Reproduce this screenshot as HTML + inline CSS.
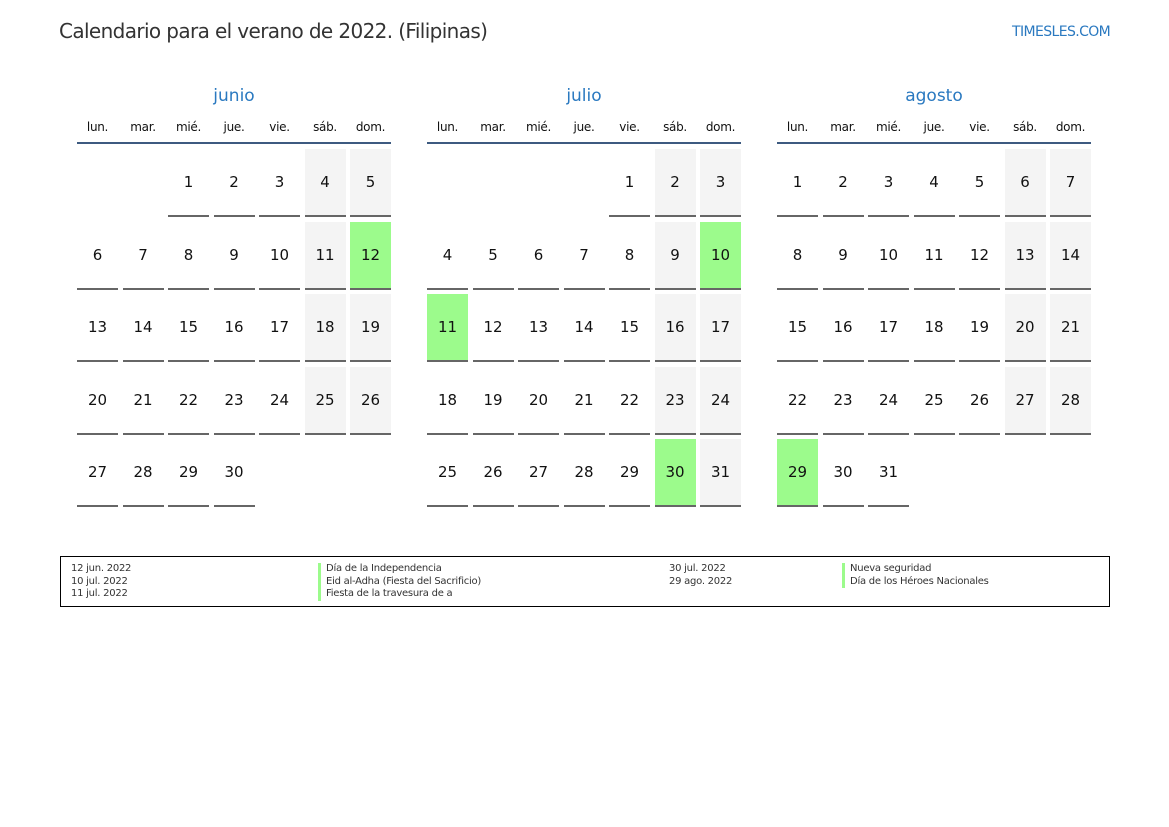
<!DOCTYPE html>
<html><head><meta charset="utf-8"><style>
body{margin:0;width:1169px;height:827px;background:#fff;position:relative;font-family:"DejaVu Sans","Liberation Sans",sans-serif;color:#111;overflow:hidden}
.t{position:absolute;left:59px;top:19px;font-size:20px;color:#333;letter-spacing:-0.62px}
.w{position:absolute;left:1012px;top:24px;font-size:14px;color:#2a79c0;letter-spacing:-0.6px}
.m{position:absolute;top:85px;width:314px}
.mn{text-align:center;font-size:17px;color:#2a79c0;height:24px;line-height:22px}
.dn{display:grid;grid-template-columns:repeat(7,41px);column-gap:4.5px;font-size:12px;text-align:center;height:33px;line-height:37px;border-bottom:2px solid #3d5a80}
.dn span{letter-spacing:-0.3px}
.g{display:grid;grid-template-columns:repeat(7,41px);column-gap:4.5px;grid-auto-rows:68px;row-gap:4.6px;margin-top:5px}
.g div{box-sizing:border-box;text-align:center;line-height:67px;font-size:15px}
.g .d{border-bottom:2px solid #666}
.g .s{background:#f4f4f4}
.g .h{background:#9cfb8c}
.lg{position:absolute;left:60px;top:556px;width:1048px;height:49px;border:1px solid #000;font-size:10px;color:#333;letter-spacing:-0.25px}
.lg div{position:absolute;line-height:12.5px}
.bar{border-left:3px solid #9cfb8c;padding-left:5px}
</style></head><body>
<div class="t">Calendario para el verano de 2022. (Filipinas)</div>
<div class="w">TIMESLES.COM</div>

<div class="m" style="left:77px">
<div class="mn">junio</div>
<div class="dn"><span>lun.</span><span>mar.</span><span>mié.</span><span>jue.</span><span>vie.</span><span>sáb.</span><span>dom.</span></div>
<div class="g">
<div></div><div></div><div class="d">1</div><div class="d">2</div><div class="d">3</div><div class="d s">4</div><div class="d s">5</div>
<div class="d">6</div><div class="d">7</div><div class="d">8</div><div class="d">9</div><div class="d">10</div><div class="d s">11</div><div class="d h">12</div>
<div class="d">13</div><div class="d">14</div><div class="d">15</div><div class="d">16</div><div class="d">17</div><div class="d s">18</div><div class="d s">19</div>
<div class="d">20</div><div class="d">21</div><div class="d">22</div><div class="d">23</div><div class="d">24</div><div class="d s">25</div><div class="d s">26</div>
<div class="d">27</div><div class="d">28</div><div class="d">29</div><div class="d">30</div>
</div></div>

<div class="m" style="left:427px">
<div class="mn">julio</div>
<div class="dn"><span>lun.</span><span>mar.</span><span>mié.</span><span>jue.</span><span>vie.</span><span>sáb.</span><span>dom.</span></div>
<div class="g">
<div></div><div></div><div></div><div></div><div class="d">1</div><div class="d s">2</div><div class="d s">3</div>
<div class="d">4</div><div class="d">5</div><div class="d">6</div><div class="d">7</div><div class="d">8</div><div class="d s">9</div><div class="d h">10</div>
<div class="d h">11</div><div class="d">12</div><div class="d">13</div><div class="d">14</div><div class="d">15</div><div class="d s">16</div><div class="d s">17</div>
<div class="d">18</div><div class="d">19</div><div class="d">20</div><div class="d">21</div><div class="d">22</div><div class="d s">23</div><div class="d s">24</div>
<div class="d">25</div><div class="d">26</div><div class="d">27</div><div class="d">28</div><div class="d">29</div><div class="d h">30</div><div class="d s">31</div>
</div></div>

<div class="m" style="left:777px">
<div class="mn">agosto</div>
<div class="dn"><span>lun.</span><span>mar.</span><span>mié.</span><span>jue.</span><span>vie.</span><span>sáb.</span><span>dom.</span></div>
<div class="g">
<div class="d">1</div><div class="d">2</div><div class="d">3</div><div class="d">4</div><div class="d">5</div><div class="d s">6</div><div class="d s">7</div>
<div class="d">8</div><div class="d">9</div><div class="d">10</div><div class="d">11</div><div class="d">12</div><div class="d s">13</div><div class="d s">14</div>
<div class="d">15</div><div class="d">16</div><div class="d">17</div><div class="d">18</div><div class="d">19</div><div class="d s">20</div><div class="d s">21</div>
<div class="d">22</div><div class="d">23</div><div class="d">24</div><div class="d">25</div><div class="d">26</div><div class="d s">27</div><div class="d s">28</div>
<div class="d h">29</div><div class="d">30</div><div class="d">31</div>
</div></div>

<div class="lg">
<div style="left:10px;top:6px">12 jun. 2022<br>10 jul. 2022<br>11 jul. 2022</div>
<div style="left:257px;top:6px"><div class="bar" style="position:static">Día de la Independencia</div><div class="bar" style="position:static">Eid al-Adha (Fiesta del Sacrificio)</div><div class="bar" style="position:static">Fiesta de la travesura de a</div></div>
<div style="left:608px;top:6px">30 jul. 2022<br>29 ago. 2022</div>
<div style="left:781px;top:6px"><div class="bar" style="position:static">Nueva seguridad</div><div class="bar" style="position:static">Día de los Héroes Nacionales</div></div>
</div>
</body></html>
